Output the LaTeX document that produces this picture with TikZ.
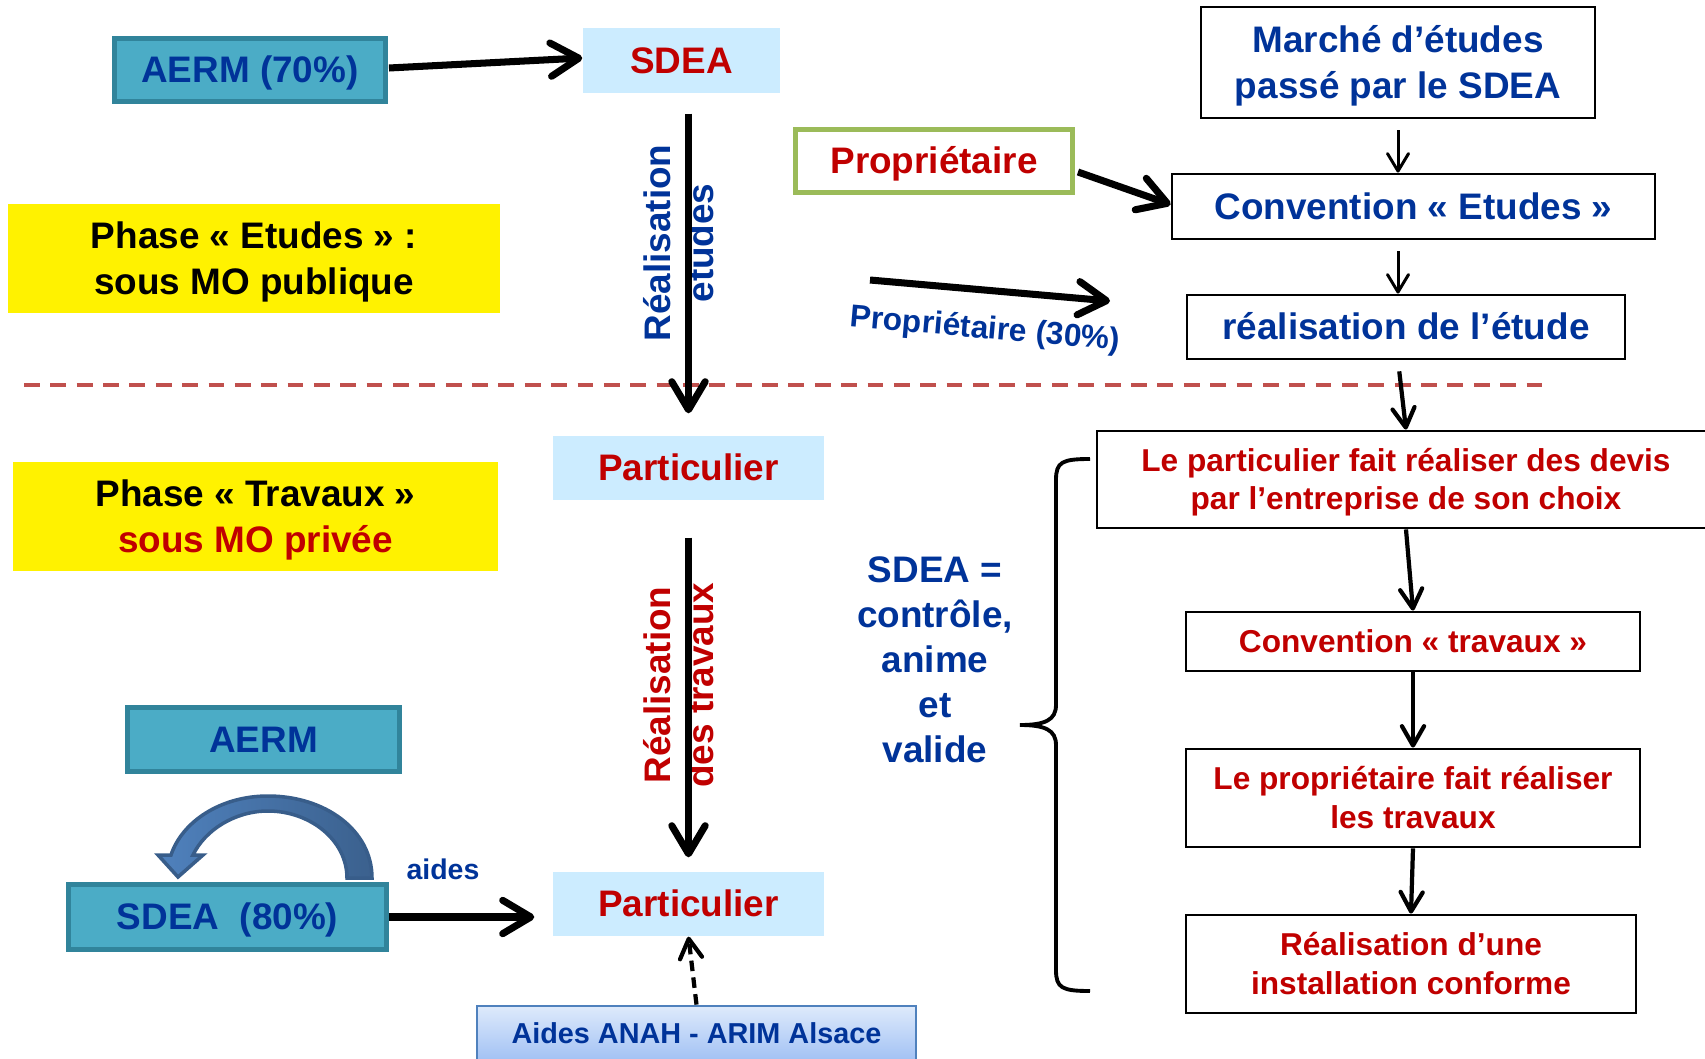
\documentclass[tikz,border=0pt]{standalone}
\usepackage{fontspec}
\setmainfont{Liberation Sans}
\usepackage{tikz}
\usetikzlibrary{arrows.meta,calc,positioning}
\definecolor{sdblue}{RGB}{0,51,153}
\definecolor{sdred}{RGB}{192,0,0}
\definecolor{teal1}{RGB}{75,172,198}
\definecolor{tealdk}{RGB}{49,132,155}
\definecolor{paleblue}{RGB}{204,236,255}
\definecolor{leaf}{RGB}{155,187,89}
\definecolor{dashred}{RGB}{192,80,77}
\definecolor{arcblue}{RGB}{79,129,189}
\definecolor{arcedge}{RGB}{56,93,138}
\definecolor{anahedge}{RGB}{79,129,189}
\definecolor{anahtop}{RGB}{222,234,251}
\definecolor{anahbot}{RGB}{160,192,244}

\begin{document}
\begin{tikzpicture}[x=1cm,y=-1cm,
  big/.style={font=\bfseries\fontsize{10.5}{13}\selectfont},
  sml/.style={font=\bfseries\fontsize{9}{11}\selectfont},
  bigline/.style={big,text height=9.5pt,text depth=2.23pt},
  bigtwo/.style={big,text height=22.5pt,text depth=2.23pt},
  smlline/.style={sml,text height=8.15pt,text depth=1.91pt},
  smltwo/.style={sml,text height=19.15pt,text depth=1.91pt},
  tealbox/.style={bigline,draw=tealdk,line width=1.4pt,fill=teal1,text=sdblue,inner sep=0pt},
  palebox/.style={bigline,fill=paleblue,text=sdred,inner sep=0pt},
  yelbox/.style={bigtwo,fill=yellow,align=center,inner sep=0pt,minimum width=4.92cm,minimum height=1.09cm},
  framebox/.style={draw,line width=0.8pt,align=center,inner sep=0pt},
  bigarrow/.style={-{Straight Barb[length=8pt,width=9.5pt,round]},line width=2pt},
  thinarrow/.style={-{Straight Barb[length=5pt,width=6pt,round]},line width=0.85pt},
  midarrow/.style={-{Straight Barb[length=5.5pt,width=6.3pt,round]},line width=1.2pt}]
\useasboundingbox (0,0) rectangle (17.05,10.59);

% phase etudes
\node[tealbox,minimum width=2.71cm,minimum height=0.63cm] (AERMa) at (2.50,0.70) {AERM (70\%)};
\node[palebox,minimum width=1.97cm,minimum height=0.65cm] (SDEAa) at (6.815,0.605) {SDEA};
\node[bigline,draw=leaf,line width=1.4pt,text=sdred,inner sep=0pt,minimum width=2.77cm,minimum height=0.63cm] (Prop) at (9.34,1.61) {Propriétaire};
\node[framebox,bigtwo,text=sdblue,minimum width=3.94cm,minimum height=1.11cm] (Marche) at (13.98,0.625) {Marché d’études\\passé par le SDEA};
\node[framebox,bigline,text=sdblue,minimum width=4.83cm,minimum height=0.65cm] (ConvE) at (14.135,2.065) {Convention « Etudes »};
\node[framebox,bigline,text=sdblue,minimum width=4.38cm,minimum height=0.64cm] (RealE) at (14.06,3.27) {réalisation de l’étude};
\node[yelbox] (PhaseE) at (2.54,2.585) {Phase « Etudes » :\\sous MO publique};
\node[big,text=sdblue,rotate=90,align=center,font=\bfseries\fontsize{10.5}{12.2}\selectfont] (RE) at (6.79,2.43) {Réalisation\\études};
\node[sml,text=sdblue,rotate=-5] (P30) at (9.85,3.30) {Propriétaire (30\%)};
\coordinate (P30a) at (8.70,2.80);
\coordinate (P30b) at (11.10,3.01);

% separation
\draw[dashred,line width=1pt,dash pattern=on 4.5pt off 3pt] (0.24,3.85) -- (15.50,3.85);

% phase travaux
\node[palebox,minimum width=2.71cm,minimum height=0.64cm] (Part1) at (6.885,4.68) {Particulier};
\node[yelbox,minimum width=4.85cm] (PhaseT) at (2.555,5.165) {Phase « Travaux »\\\textcolor{sdred}{sous MO privée}};
\node[framebox,smltwo,text=sdred,minimum width=6.18cm,minimum height=0.97cm] (Devis) at (14.06,4.795) {Le particulier fait réaliser des devis\\par l’entreprise de son choix};
\node[framebox,smlline,text=sdred,minimum width=4.54cm,minimum height=0.59cm] (ConvT) at (14.13,6.415) {Convention « travaux »};
\node[framebox,smltwo,text=sdred,minimum width=4.54cm,minimum height=0.98cm] (PropT) at (14.13,7.98) {Le propriétaire fait réaliser\\les travaux};
\node[framebox,smltwo,text=sdred,minimum width=4.50cm,minimum height=0.98cm] (RealT) at (14.11,9.64) {Réalisation d’une\\installation conforme};
\node[big,text=sdblue,align=center,font=\bfseries\fontsize{10.5}{12.8}\selectfont] (SDEAtxt) at (9.35,6.60) {SDEA =\\contrôle,\\anime\\et\\valide};
\node[big,text=sdred,rotate=90,align=center,font=\bfseries\fontsize{10.5}{12.2}\selectfont] (RT) at (6.79,6.85) {Réalisation\\des travaux};
\node[tealbox,minimum width=2.72cm,minimum height=0.64cm] (AERMb) at (2.635,7.395) {AERM};
\node[tealbox,minimum width=3.18cm,minimum height=0.65cm] (SDEAb) at (2.275,9.17) {SDEA\ \ (80\%)};
\node[palebox,minimum width=2.71cm,minimum height=0.64cm] (Part2) at (6.885,9.04) {Particulier};
\node[font=\bfseries\fontsize{8.1}{10}\selectfont,text=sdblue] (aides) at (4.43,8.69) {aides};
\node[font=\bfseries\fontsize{8.2}{10}\selectfont,text height=7.42pt,text depth=1.74pt,text=sdblue,draw=anahedge,line width=0.8pt,top color=anahtop,bottom color=anahbot,minimum width=4.39cm,minimum height=0.56cm,inner sep=0pt] (ANAH) at (6.965,10.34) {Aides ANAH - ARIM Alsace};

% curved arrow
\draw[arcedge,line width=1pt,left color=arcblue,right color=arcblue!75!black]
  (3.72,8.78) .. controls (3.72,8.30) and (3.25,7.96) .. (2.68,7.96)
  .. controls (2.20,7.96) and (1.82,8.22) .. (1.71,8.55)
  -- (1.58,8.55) -- (1.78,8.77) -- (2.03,8.55) -- (1.93,8.55)
  .. controls (2.05,8.30) and (2.35,8.11) .. (2.68,8.11)
  .. controls (3.10,8.11) and (3.47,8.40) .. (3.47,8.78) -- cycle;

% brace
\draw[line width=1.1pt] (10.90,4.59) .. controls (10.62,4.59) and (10.56,4.62) .. (10.56,4.80)
  -- (10.56,7.05) .. controls (10.56,7.20) and (10.45,7.25) .. (10.20,7.25)
  .. controls (10.45,7.25) and (10.56,7.30) .. (10.56,7.45)
  -- (10.56,9.70) .. controls (10.56,9.88) and (10.62,9.91) .. (10.90,9.91);

% connectors
\draw[bigarrow] ($(AERMa.east)+(0.01,-0.02)$) -- ($(SDEAa.west)+(0,-0.025)$);
\draw[bigarrow,shorten <=0.2cm,shorten >=0.22cm] (Part1.north |- SDEAa.south) -- (Part1.north);
\draw[bigarrow] ($(Prop.east)+(0.03,0.11)$) -- ($(ConvE.west)+(0,-0.02)$);
\draw[bigarrow] (P30a) -- (P30b);
\path[thinarrow,shorten <=0.11cm]
  (Marche.south) edge (ConvE.north -| Marche.south)
  (ConvE.south -| Marche.south) edge (RealE.north -| Marche.south);
\draw[midarrow,shorten <=0.11cm] (RealE.south -| Marche.south) -- (Devis.north);
\path[midarrow]
  (Devis.south) edge (ConvT.north)
  (ConvT.south) edge (PropT.north)
  (PropT.south) edge (RealT.north);
\draw[bigarrow,shorten <=0.37cm,shorten >=0.14cm] (Part1.south) -- (Part2.north);
\draw[bigarrow,shorten >=0.18cm] (SDEAb.east) -- (Part2.west |- SDEAb.east);
\draw[midarrow,line width=1.2pt,dash pattern=on 3pt off 1.8pt] (ANAH.north) -- (Part2.south);
\end{tikzpicture}
\end{document}
